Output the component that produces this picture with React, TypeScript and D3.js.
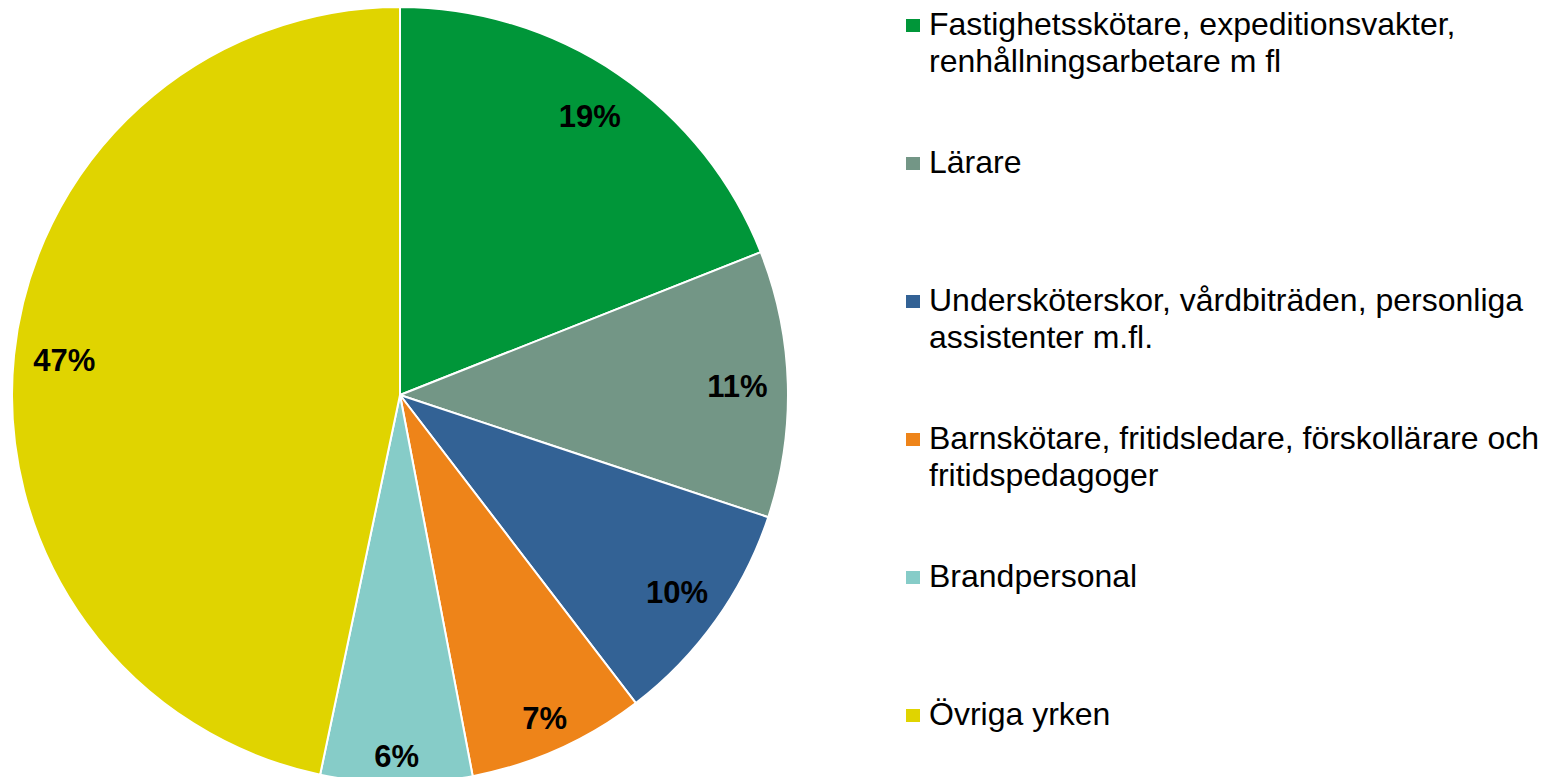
import React, { useRef, useEffect } from 'react';
import * as d3 from 'd3';

const categories = [
  'Fastighetsskötare, expeditionsvakter, renhållningsarbetare m fl',
  'Lärare',
  'Undersköterskor, vårdbiträden, personliga assistenter m.fl.',
  'Barnskötare, fritidsledare, förskollärare och fritidspedagoger',
  'Brandpersonal',
  'Övriga yrken',
];
const legendLines = [
  ['Fastighetsskötare, expeditionsvakter,', 'renhållningsarbetare m fl'],
  ['Lärare'],
  ['Undersköterskor, vårdbiträden, personliga', 'assistenter m.fl.'],
  ['Barnskötare, fritidsledare, förskollärare och', 'fritidspedagoger'],
  ['Brandpersonal'],
  ['Övriga yrken'],
];
const values = [19.0, 11.1, 9.5, 7.4, 6.3, 46.7];
const labels = ['19%', '11%', '10%', '7%', '6%', '47%'];
const colorList = ['#009639', '#739686', '#336295', '#ee8419', '#86ccc8', '#e0d400'];

const App = () => {
  const svgRef = useRef<SVGSVGElement>(null);

  useEffect(() => {
    const svg = d3.select(svgRef.current);
    svg.selectAll('g').remove();

    const cx = 400;
    const cy = 395;
    const radius = 388;
    const font = 'Liberation Sans, Arial, sans-serif';

    const color = d3.scaleOrdinal<number, string>().domain(d3.range(values.length)).range(colorList);

    const pie = d3.pie<number>().sort(null).value(d => d);
    const arcs = pie(values);
    const arc = d3.arc<d3.PieArcDatum<number>>().innerRadius(0).outerRadius(radius);

    // narrow slices get their label pushed outward (best fit)
    const labelPos = (d: d3.PieArcDatum<number>) => {
      const span = d.endAngle - d.startAngle;
      const r = radius * 0.87 + Math.max(0, (0.62 - span) * 105);
      const a = (d.startAngle + d.endAngle) / 2;
      return [Math.sin(a) * r, -Math.cos(a) * r];
    };

    const chart = svg.append('g').attr('transform', `translate(${cx},${cy})`);

    chart.selectAll('path')
      .data(arcs)
      .join('path')
      .attr('d', arc)
      .attr('fill', (d, i) => color(i))
      .attr('stroke', '#fff')
      .attr('stroke-width', 2)
      .attr('stroke-linejoin', 'round');

    chart.selectAll('text')
      .data(arcs)
      .join('text')
      .attr('transform', d => `translate(${labelPos(d)})`)
      .attr('text-anchor', 'middle')
      .attr('dy', '0.36em')
      .style('font-family', font)
      .style('font-weight', 'bold')
      .style('font-size', '31px')
      .style('fill', '#000')
      .text((d, i) => labels[i]);

    // legend
    const legendY = d3.scalePoint<number>().domain(d3.range(categories.length)).range([35, 725]);
    const legend = svg.append('g').attr('class', 'legend');
    const item = legend.selectAll('g')
      .data(categories)
      .join('g')
      .attr('transform', (d, i) => `translate(906,${legendY(i)})`);

    item.append('rect')
      .attr('x', 0)
      .attr('y', -16)
      .attr('width', 14)
      .attr('height', 13)
      .attr('fill', (d, i) => color(i));

    item.append('text')
      .style('font-family', font)
      .style('font-size', '32px')
      .style('fill', '#000')
      .selectAll('tspan')
      .data((d, i) => legendLines[i])
      .join('tspan')
      .attr('x', 23)
      .attr('y', (d, j) => j * 37)
      .text(d => d);
  }, []);

  return (
    <svg ref={svgRef} width={1554} height={777} style={{ position: 'absolute', left: 0, top: 0, background: '#fff' }} />
  );
};

export default App;
